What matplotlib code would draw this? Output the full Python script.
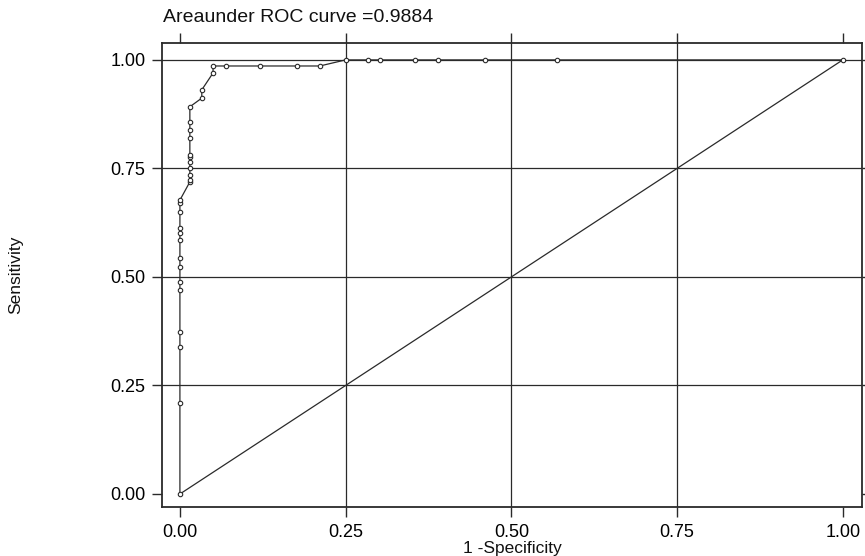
import matplotlib
matplotlib.use("Agg")
import matplotlib.pyplot as plt

plt.rcParams['font.family'] = ['Liberation Sans', 'DejaVu Sans']

# ROC points
fpr = [0.0, 0.0, 0.0, 0.0, 0.0, 0.0, 0.0, 0.0, 0.0, 0.0, 0.0, 0.0, 0.0, 0.0,
       0.015, 0.015, 0.015, 0.015, 0.015, 0.015, 0.015, 0.015, 0.015, 0.015,
       0.015, 0.033, 0.033, 0.05, 0.05, 0.069, 0.121, 0.176, 0.211,
       0.25, 0.284, 0.302, 0.354, 0.389, 0.46, 0.569, 1.0]
sens = [0.0, 0.21, 0.339, 0.373, 0.47, 0.488, 0.523, 0.544, 0.585, 0.601, 0.613, 0.65, 0.67, 0.677,
        0.719, 0.724, 0.735, 0.751, 0.765, 0.776, 0.781, 0.82, 0.839, 0.857,
        0.892, 0.912, 0.931, 0.97, 0.986,
        0.986, 0.986, 0.986, 0.986,
        1.0, 1.0, 1.0, 1.0, 1.0, 1.0, 1.0, 1.0]

ticks = [0.0, 0.25, 0.5, 0.75, 1.0]
tick_labels = ['0.00', '0.25', '0.50', '0.75', '1.00']
auc = 0.9884

fig = plt.figure(figsize=(8.65, 5.56), dpi=100)
ax = fig.add_axes([0.1873, 0.0881, 0.8092, 0.8346])

line_c = '#2a2a2a'
for v in [0.25, 0.5, 0.75]:
    ax.axvline(v, color=line_c, lw=0.9, zorder=1)
for v in [0.25, 0.5, 0.75, 1.0]:
    ax.axhline(v, color=line_c, lw=0.9, zorder=1)

ax.plot([0, 1], [0, 1], color=line_c, lw=0.9, zorder=2)
ax.plot(fpr, sens, color=line_c, lw=0.9, marker='o', ms=3.2, mfc='white',
        mec=line_c, mew=0.8, zorder=3)

ax.set_xlim(-0.027, 1.029)
ax.set_ylim(-0.030, 1.039)
ax.set_xticks(ticks)
ax.set_xticklabels(tick_labels)
ax.set_yticks(ticks)
ax.set_yticklabels(tick_labels)
ax.tick_params(direction='out', length=7, width=1.0, color=line_c,
               labelsize=13, pad=5, top=True, right=True,
               labeltop=False, labelright=False)
for s in ax.spines.values():
    s.set_color(line_c)
    s.set_linewidth(1.3)

fig.text(0.1885, 0.969, 'Areaunder ROC curve =%.4f' % auc, fontsize=14,
         ha='left', va='center', color='#111111')
fig.text(0.592, 0.014, '1 -Specificity', fontsize=12.5, ha='center',
         va='center', color='#111111')
fig.text(0.018, 0.505, 'Sensitivity', fontsize=12.5, ha='center',
         va='center', rotation=90, color='#111111')

fig.savefig('out.png', dpi=100)
